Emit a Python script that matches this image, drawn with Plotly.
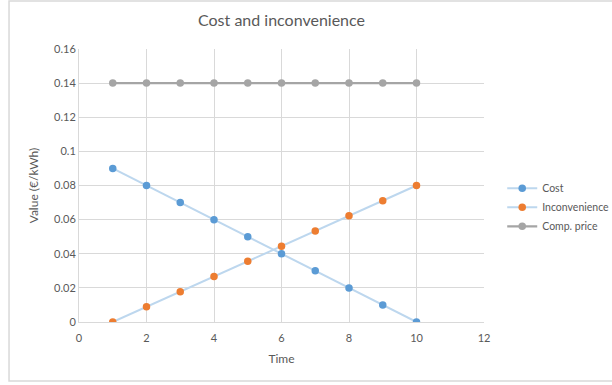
import plotly.graph_objects as go

# --- data --------------------------------------------------------------
time = [1, 2, 3, 4, 5, 6, 7, 8, 9, 10]
cost = [0.09, 0.08, 0.07, 0.06, 0.05, 0.04, 0.03, 0.02, 0.01, 0.0]
inconvenience = [0.0, 0.0089, 0.0178, 0.0267, 0.0356, 0.0444, 0.0533, 0.0622, 0.0711, 0.08]
comp_price = [0.14, 0.14, 0.14, 0.14, 0.14, 0.14, 0.14, 0.14, 0.14, 0.14]

x_ticks = [0, 2, 4, 6, 8, 10, 12]
y_ticks = [0, 0.02, 0.04, 0.06, 0.08, 0.1, 0.12, 0.14, 0.16]
y_labels = ["0", "0.02", "0.04", "0.06", "0.08", "0.1", "0.12", "0.14", "0.16"]

# Excel-like palette
TEXT = "#595959"
GRID = "#d9d9d9"
LINE_LIGHT = "#bdd7ee"
BLUE = "#5b9bd5"
ORANGE = "#ed7d31"
GRAY = "#a5a5a5"
FONT = "Lato, 'Open Sans', sans-serif"

fig = go.Figure()
fig.add_trace(go.Scatter(
    x=time, y=cost, name="Cost", mode="lines+markers",
    line=dict(color=LINE_LIGHT, width=2),
    marker=dict(color=BLUE, size=7.5),
))
fig.add_trace(go.Scatter(
    x=time, y=inconvenience, name="Inconvenience", mode="lines+markers",
    line=dict(color=LINE_LIGHT, width=2),
    marker=dict(color=ORANGE, size=7.5),
))
fig.add_trace(go.Scatter(
    x=time, y=comp_price, name="Comp. price", mode="lines+markers",
    line=dict(color=GRAY, width=2.25),
    marker=dict(color=GRAY, size=7.5),
))

fig.update_layout(
    width=612, height=385,
    paper_bgcolor="white", plot_bgcolor="white",
    margin=dict(l=79, r=128, t=49, b=63, autoexpand=False),
    font=dict(family=FONT, color=TEXT, size=11),
    title=dict(text="Cost and inconvenience", x=0.5, xref="paper", xanchor="center",
               y=0.948, yref="container", yanchor="middle",
               font=dict(size=16, color=TEXT, family=FONT)),
    legend=dict(x=1.045, xanchor="left", y=0.42, yanchor="middle",
                font=dict(size=10.5, color=TEXT), tracegroupgap=4,
                itemwidth=30, bgcolor="rgba(0,0,0,0)"),
    showlegend=True,
    shapes=[dict(type="rect", xref="paper", yref="paper",
                 x0=-0.1728, x1=1.33, y0=-0.216, y1=1.176,
                 line=dict(color=GRID, width=1.5), fillcolor="rgba(0,0,0,0)",
                 layer="below")],
)

fig.update_xaxes(
    range=[0, 12], tickvals=x_ticks, showgrid=True, gridcolor=GRID, gridwidth=1,
    zeroline=False, showline=True, linecolor=GRID, linewidth=1, mirror=False,
    ticks="", ticklabelstandoff=6, tickfont=dict(size=11, color=TEXT),
    title=dict(text="Time", font=dict(size=12, color=TEXT), standoff=11),
    automargin=False,
)
fig.update_yaxes(
    range=[0, 0.16], tickvals=y_ticks, ticktext=y_labels, showgrid=True,
    gridcolor=GRID, gridwidth=1, zeroline=False, showline=True, linecolor=GRID,
    ticks="", tickfont=dict(size=11, color=TEXT),
    title=dict(text="Value (€/kWh)", font=dict(size=12, color=TEXT), standoff=12),
    automargin=False,
)

# drop the browser's default 8px body margin so the figure sits at (0, 0)
fig.write_html("out.html", config={"displayModeBar": False},
               post_script="document.body.style.margin='0';")
